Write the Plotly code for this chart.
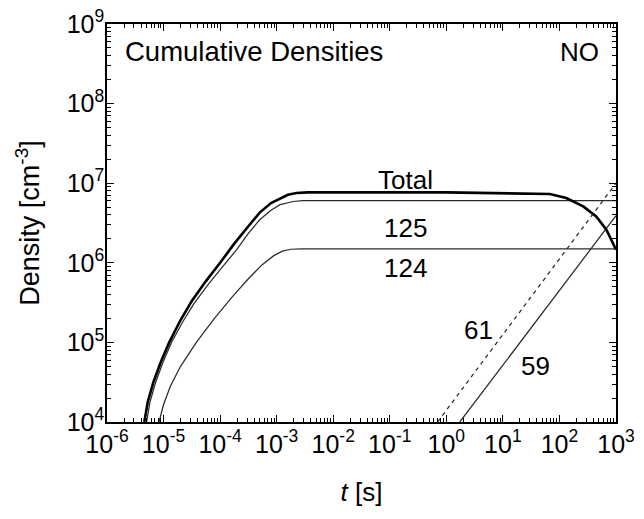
import plotly.graph_objects as go

# ---- data (t in s, density in cm^-3) ----
t_total = [4.57e-6, 5.25e-6, 6.61e-6, 8.91e-6, 1.26e-5, 2.0e-5, 3.16e-5, 5.62e-5, 1.0e-4,
           1.78e-4, 3.16e-4, 5.01e-4, 7.94e-4, 1.15e-3, 1.58e-3, 2.24e-3, 3.55e-3, 1.0,
           8.71, 31.6, 67.6, 132.0, 263.0, 447.0, 676.0, 881.0, 1000.0]
n_total = [1.0e4, 1.78e4, 3.16e4, 5.62e4, 1.0e5, 1.91e5, 3.31e5, 5.89e5, 1.0e6,
           1.74e6, 2.88e6, 4.27e6, 5.62e6, 6.46e6, 7.16e6, 7.53e6, 7.67e6, 7.67e6,
           7.53e6, 7.45e6, 7.31e6, 6.52e6, 5.11e6, 3.82e6, 2.60e6, 1.77e6, 1.46e6]

t_125 = [5.01e-6, 5.75e-6, 7.24e-6, 9.77e-6, 1.38e-5, 2.19e-5, 3.47e-5, 6.17e-5, 1.10e-4,
         1.95e-4, 3.16e-4, 5.01e-4, 7.94e-4, 1.15e-3, 1.95e-3, 2.88e-3, 1000.0]
n_125 = [1.0e4, 1.78e4, 3.16e4, 5.62e4, 1.0e5, 1.82e5, 3.09e5, 5.37e5, 8.91e5,
         1.45e6, 2.34e6, 3.47e6, 4.57e6, 5.37e6, 5.89e6, 6.03e6, 6.03e6]

t_124 = [8.32e-6, 1.0e-5, 1.32e-5, 2.0e-5, 3.80e-5, 7.94e-5, 1.58e-4, 3.16e-4, 5.62e-4,
         8.91e-4, 1.26e-3, 1.78e-3, 2.82e-3, 1000.0]
n_124 = [1.0e4, 1.66e4, 2.82e4, 5.01e4, 1.0e5, 2.0e5, 3.63e5, 6.31e5, 9.55e5,
         1.23e6, 1.40e6, 1.48e6, 1.50e6, 1.50e6]

t_61 = [0.70, 1000.0]
n_61 = [1.0e4, 1.0e7]

t_59 = [1.73, 1000.0]
n_59 = [1.0e4, 3.9e6]

x_tick_vals = [1e-6, 1e-5, 1e-4, 1e-3, 1e-2, 1e-1, 1e0, 1e1, 1e2, 1e3]
x_tick_text = ["10<sup>-6</sup>", "10<sup>-5</sup>", "10<sup>-4</sup>", "10<sup>-3</sup>",
               "10<sup>-2</sup>", "10<sup>-1</sup>", "10<sup>0</sup>", "10<sup>1</sup>",
               "10<sup>2</sup>", "10<sup>3</sup>"]
y_tick_vals = [1e4, 1e5, 1e6, 1e7, 1e8, 1e9]
y_tick_text = ["10<sup>4</sup>", "10<sup>5</sup>", "10<sup>6</sup>", "10<sup>7</sup>",
               "10<sup>8</sup>", "10<sup>9</sup>"]

FONT = "Liberation Sans, Arial, Helvetica, sans-serif"
TICK_SIZE = 25
TEXT_SIZE = 26

fig = go.Figure()
thin = dict(color="#2a2a2a", width=1.25)
fig.add_trace(go.Scatter(x=t_124, y=n_124, mode="lines", line=thin))
fig.add_trace(go.Scatter(x=t_125, y=n_125, mode="lines", line=thin))
fig.add_trace(go.Scatter(x=t_61, y=n_61, mode="lines", line=dict(color="#2a2a2a", width=1.25, dash="4px,4px")))
fig.add_trace(go.Scatter(x=t_59, y=n_59, mode="lines", line=thin))
fig.add_trace(go.Scatter(x=t_total, y=n_total, mode="lines", line=dict(color="black", width=2.6)))

x_minor = [m * 10.0 ** e for e in range(-6, 3) for m in range(2, 10)]
y_minor = [m * 10.0 ** e for e in range(4, 9) for m in range(2, 10)]

axis_common = dict(
    showgrid=False, zeroline=False, showline=True, linecolor="black", linewidth=1.5,
    mirror="ticks", ticks="inside", ticklen=7, tickwidth=1.2, tickcolor="black",
    tickfont=dict(family=FONT, size=TICK_SIZE, color="black"),
    ticklabeloverflow="allow",
)

fig.update_xaxes(type="log", range=[-6, 3], tickmode="array", tickvals=x_tick_vals, ticktext=x_tick_text,
                 minor=dict(tickmode="array", tickvals=x_minor, ticks="inside", ticklen=4, tickwidth=1, tickcolor="black"),
                 title=dict(text="<i>t</i> [s]", font=dict(family=FONT, size=TEXT_SIZE, color="black"), standoff=26),
                 ticklabelstandoff=-1,
                 **axis_common)
fig.update_yaxes(type="log", range=[4, 9], tickmode="array", tickvals=y_tick_vals, ticktext=y_tick_text,
                 minor=dict(tickmode="array", tickvals=y_minor, ticks="inside", ticklen=4, tickwidth=1, tickcolor="black"),
                 title=dict(text="Density [cm<sup>-3</sup>]", font=dict(family=FONT, size=27, color="black"), standoff=19),
                 ticklabelstandoff=-4,
                 **axis_common)

# plot-area edges in page pixels (body margin is removed below)
L, R, T, B = 107, 616, 24, 422
W, H = 644, 519

def px(x, y):
    return (x - L) / (R - L), (B - y) / (B - T)

annots = [
    ("Cumulative Densities", 123, 52, "left", 27.5),
    ("NO", 601, 52, "right", TEXT_SIZE),
    ("Total", 405, 180, "center", TEXT_SIZE),
    ("125", 405, 228, "center", TEXT_SIZE),
    ("124", 405, 268, "center", TEXT_SIZE),
    ("61", 478, 330, "center", TEXT_SIZE),
    ("59", 535, 366, "center", TEXT_SIZE),
]
for text, ax_, ay_, al, sz in annots:
    xx, yy = px(ax_, ay_)
    fig.add_annotation(x=xx, y=yy, xref="paper", yref="paper", text=text, showarrow=False,
                       xanchor=al, yanchor="middle", font=dict(family=FONT, size=sz, color="black"))

fig.update_layout(
    width=W, height=H, showlegend=False,
    paper_bgcolor="white", plot_bgcolor="white",
    margin=dict(l=L, r=W - R, t=T, b=H - B, autoexpand=False),
    font=dict(family=FONT, size=TEXT_SIZE, color="black"),
)

fig.write_html("out.html", config={"displayModeBar": False},
               post_script="document.body.style.margin='0px';document.body.style.overflow='hidden';")
